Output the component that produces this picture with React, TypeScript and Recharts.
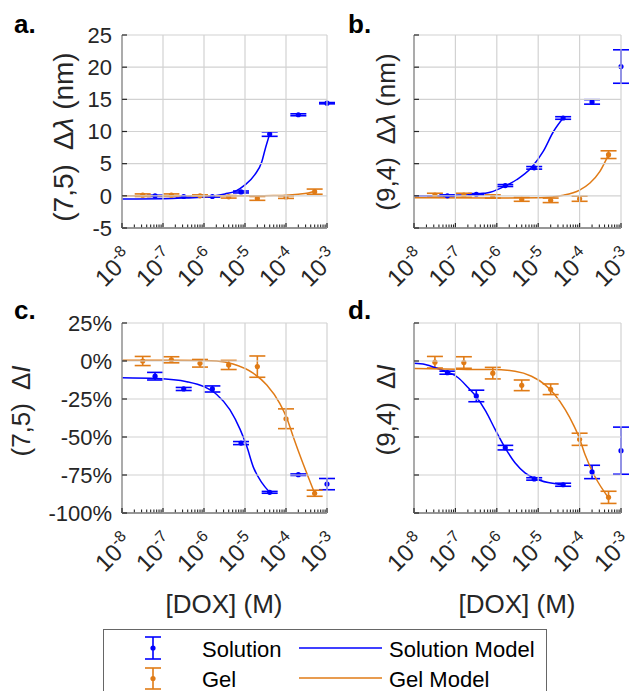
import React from "react";
import { ComposedChart, Line, Scatter, ErrorBar, XAxis, YAxis } from "recharts";

const BLUE = "#0000ff";
const ORANGE = "#e07b16";
const AXIS = "#262626";
const GRID = "#d2d2d2";
const FONT = "'Liberation Sans', Arial, Helvetica, sans-serif";

// [DOX] in M
const solConc = [6.4e-8, 3.2e-7, 1.6e-6, 8e-6, 4e-5, 2e-4, 1e-3];
const gelConc = [3.2e-8, 1.6e-7, 8e-7, 4e-6, 2e-5, 1e-4, 5e-4];

// a. (7,5) wavelength shift (nm)
const solShift75 = [0.0, -0.1, -0.1, 0.6, 9.6, 12.6, 14.4];
const solShift75Err = [0.1, 0.1, 0.1, 0.15, 0.35, 0.15, 0.1];
const gelShift75 = [0.1, 0.1, 0.0, -0.15, -0.4, -0.2, 0.65];
const gelShift75Err = [0.2, 0.2, 0.15, 0.2, 0.3, 0.2, 0.4];

// b. (9,4) wavelength shift (nm)
const solShift94 = [0.0, 0.25, 1.6, 4.35, 12.1, 14.6, 20.1];
const solShift94Err = [0.15, 0.1, 0.15, 0.2, 0.2, 0.35, 2.6];
const gelShift94 = [0.1, 0.1, -0.1, -0.55, -0.7, -0.45, 6.4];
const gelShift94Err = [0.3, 0.3, 0.25, 0.3, 0.35, 0.4, 0.6];

// c. (7,5) intensity change (%)
const solInt75 = [-10, -18.4, -18.4, -54, -86.4, -74.8, -81];
const solInt75Err = [2.5, 1, 2, 1, 0.6, 0.5, 3.7];
const gelInt75 = [0, 0.8, -1.5, -2.6, -3.7, -38, -87];
const gelInt75Err = [3, 2, 2.5, 3, 7, 6.5, 2];

// d. (9,4) intensity change (%)
const solInt94 = [-7.7, -23, -57, -77.6, -81.4, -73, -59];
const solInt94Err = [1, 3.8, 1.5, 0.8, 1, 4.4, 15.5];
const gelInt94 = [-0.8, -1, -8, -16, -18.6, -51.5, -89.7];
const gelInt94Err = [3.8, 3.8, 3.8, 3.5, 3.5, 4, 4];

// model curves
const solFitAx = [1e-8, 1e-7, 3.2e-7, 1e-6, 1.86e-6, 3.24e-6, 5.75e-6, 1e-5, 1.74e-5, 2.57e-5, 3.09e-5, 4e-5];
const solFitAy = [-0.5, -0.45, -0.35, -0.2, 0.0, 0.3, 0.7, 1.7, 3.3, 5.3, 7.2, 9.6];
const gelFitAx = [1e-8, 1e-6, 1e-5, 5e-5, 1e-4, 2e-4, 3.5e-4, 5e-4];
const gelFitAy = [0.0, 0.0, 0.0, 0.05, 0.1, 0.25, 0.45, 0.7];

const solFitBx = [1e-8, 1e-7, 3.2e-7, 6.9e-7, 1.58e-6, 3e-6, 6.9e-6, 1.32e-5, 2.34e-5, 4e-5];
const solFitBy = [0.0, 0.1, 0.25, 0.55, 1.5, 2.5, 4.4, 6.9, 10.0, 12.1];
const gelFitBx = [1e-8, 1e-6, 1.1e-5, 4.1e-5, 1e-4, 1.78e-4, 3.1e-4, 5e-4];
const gelFitBy = [-0.3, -0.35, -0.3, 0.1, 0.9, 2.0, 3.8, 6.4];

const solFitCx = [1e-8, 7e-8, 3.8e-7, 1e-6, 2.04e-6, 4.27e-6, 7.6e-6, 1.1e-5, 1.58e-5, 2.57e-5, 4e-5];
const solFitCy = [-11, -11.5, -13.6, -16.9, -22, -32, -45, -56, -69.5, -80, -86.4];
const gelFitCx = [1e-8, 1e-7, 1e-6, 2.04e-6, 5.1e-6, 1.58e-5, 3.4e-5, 7.1e-5, 1.05e-4, 1.5e-4, 2.4e-4, 4.3e-4, 5e-4];
const gelFitCy = [0.5, 0.5, 0.3, 0, -2, -8, -15.8, -28, -37.7, -49.8, -65, -82.5, -87];

const solFitDx = [1e-8, 1.86e-8, 3.9e-8, 6.8e-8, 1.17e-7, 2.04e-7, 3.1e-7, 5.4e-7, 9.1e-7, 1.58e-6, 2.75e-6, 4.8e-6, 8.3e-6, 1.74e-5, 4e-5];
const solFitDy = [-1.5, -2.3, -5.1, -7.4, -11, -17.6, -23, -33, -45, -57, -67, -73.6, -77.3, -80, -81.4];
const gelFitDx = [1e-8, 1.17e-7, 7.6e-7, 2.75e-6, 6.9e-6, 1.45e-5, 2.5e-5, 4.5e-5, 7.1e-5, 9.8e-5, 1.35e-4, 2.34e-4, 5e-4];
const gelFitDy = [-5, -5.5, -5.6, -6.7, -10, -15.5, -22, -32, -42, -50.5, -61.5, -76, -90];

const X_TICKS = [1e-8, 1e-7, 1e-6, 1e-5, 1e-4, 1e-3];
const MINOR = [2, 3, 4, 5, 6, 7, 8, 9];
const shiftTicks = [-5, 0, 5, 10, 15, 20, 25];
const intTicks = [-100, -75, -50, -25, 0, 25];

const zip = (xs: number[], ys: number[], es?: number[]) =>
  xs.map((x, i) => ({ x, y: ys[i], err: es ? es[i] : 0 }));

// x tick: vertical grid line, inward major/minor log ticks, rotated 10^n label
function LogTick(props: any) {
  const { x, y, payload, decade, plotH } = props;
  const e = Math.round(Math.log10(payload.value));
  return (
    <g>
      <line x1={x} y1={y} x2={x} y2={y - plotH} stroke={GRID} strokeWidth={1.2} />
      <line x1={x} y1={y} x2={x} y2={y - 5} stroke={AXIS} strokeWidth={1.2} />
      {e < -3 &&
        MINOR.map((k) => {
          const mx = x + Math.log10(k) * decade;
          return <line key={k} x1={mx} y1={y} x2={mx} y2={y - 3.5} stroke={AXIS} strokeWidth={1.1} />;
        })}
      <text
        transform={`translate(${x + 12},${y + 31}) rotate(-45)`}
        textAnchor="end"
        fontSize={24}
        fontFamily={FONT}
        fill={AXIS}
      >
        10
        <tspan dy={-10} fontSize={16}>
          {e}
        </tspan>
      </text>
    </g>
  );
}

// y tick: horizontal grid line, inward tick, optional label
function GridYTick(props: any) {
  const { x, y, payload, plotW, showY, fmt } = props;
  const x0 = x + 10;
  return (
    <g>
      <line x1={x0} y1={y} x2={x0 + plotW} y2={y} stroke={GRID} strokeWidth={1.2} />
      <line x1={x0} y1={y} x2={x0 + 5} y2={y} stroke={AXIS} strokeWidth={1.2} />
      {showY && (
        <text x={x} y={y} dy="0.355em" textAnchor="end" fontSize={22} fontFamily={FONT} fill={AXIS}>
          {fmt ? fmt(payload.value) : payload.value}
        </text>
      )}
    </g>
  );
}

const dot = (color: string) => (p: any) => <circle cx={p.cx} cy={p.cy} r={2.6} fill={color} />;

function Panel(props: any) {
  const { left, top, w, h, yDomain, yTicks, yFmt, showY, sol, gel, solFit, gelFit } = props;
  return (
    <div style={{ position: "absolute", left: left - 120, top: top - 20 }}>
      <ComposedChart width={w + 132} height={h + 92} margin={{ top: 20, right: 12, bottom: 12, left: 60 }}>
        <XAxis
          type="number"
          dataKey="x"
          scale="log"
          domain={[1e-8, 1e-3]}
          ticks={X_TICKS}
          interval={0}
          height={60}
          tickLine={false}
          tickSize={0}
          tickMargin={0}
          tick={(p: any) => <LogTick {...p} decade={w / 5} plotH={h} />}
          axisLine={{ stroke: AXIS, strokeWidth: 1.3 }}
        />
        <YAxis
          type="number"
          domain={yDomain}
          ticks={yTicks}
          interval={0}
          width={60}
          tickLine={false}
          tickSize={0}
          tickMargin={10}
          tick={(p: any) => <GridYTick {...p} plotW={w} showY={showY} fmt={yFmt} />}
          axisLine={{ stroke: AXIS, strokeWidth: 1.3 }}
        />
        <Scatter data={sol} dataKey="y" fill={BLUE} shape={dot(BLUE)} isAnimationActive={false}>
          <ErrorBar dataKey="err" direction="y" width={8} stroke={BLUE} strokeWidth={1.6} />
        </Scatter>
        <Scatter data={gel} dataKey="y" fill={ORANGE} shape={dot(ORANGE)} isAnimationActive={false}>
          <ErrorBar dataKey="err" direction="y" width={8} stroke={ORANGE} strokeWidth={1.6} />
        </Scatter>
        <Line data={solFit} dataKey="y" type="monotone" stroke={BLUE} strokeWidth={1.5} dot={false} activeDot={false} isAnimationActive={false} />
        <Line data={gelFit} dataKey="y" type="monotone" stroke={ORANGE} strokeWidth={1.5} dot={false} activeDot={false} isAnimationActive={false} />
      </ComposedChart>
    </div>
  );
}

const pct = (v: number) => `${v}%`;

function YLabel({ x, y, size, name, sym }: any) {
  return (
    <text
      transform={`translate(${x},${y}) rotate(-90)`}
      textAnchor="middle"
      dominantBaseline="central"
      fontSize={size}
      fontFamily={FONT}
      fill={AXIS}
      style={{ whiteSpace: "pre" }}
    >
      {name + "  \u0394"}
      <tspan fontStyle="italic">{sym}</tspan>
      {sym === "\u03bb" ? " (nm)" : ""}
    </text>
  );
}

export default function App() {
  return (
    <div style={{ position: "absolute", left: 0, top: 0, width: 635, height: 691, background: "#fff", overflow: "hidden" }}>
      <Panel left={122} top={35} w={205} h={193} yDomain={[-5, 25]} yTicks={shiftTicks} showY
        sol={zip(solConc, solShift75, solShift75Err)} gel={zip(gelConc, gelShift75, gelShift75Err)}
        solFit={zip(solFitAx, solFitAy)} gelFit={zip(gelFitAx, gelFitAy)} />
      <Panel left={414} top={35} w={207} h={193} yDomain={[-5, 25]} yTicks={shiftTicks} showY={false}
        sol={zip(solConc, solShift94, solShift94Err)} gel={zip(gelConc, gelShift94, gelShift94Err)}
        solFit={zip(solFitBx, solFitBy)} gelFit={zip(gelFitBx, gelFitBy)} />
      <Panel left={122} top={323} w={205} h={190} yDomain={[-100, 25]} yTicks={intTicks} yFmt={pct} showY
        sol={zip(solConc, solInt75, solInt75Err)} gel={zip(gelConc, gelInt75, gelInt75Err)}
        solFit={zip(solFitCx, solFitCy)} gelFit={zip(gelFitCx, gelFitCy)} />
      <Panel left={414} top={323} w={207} h={190} yDomain={[-100, 25]} yTicks={intTicks} showY={false}
        sol={zip(solConc, solInt94, solInt94Err)} gel={zip(gelConc, gelInt94, gelInt94Err)}
        solFit={zip(solFitDx, solFitDy)} gelFit={zip(gelFitDx, gelFitDy)} />

      <svg width={635} height={691} style={{ position: "absolute", left: 0, top: 0, pointerEvents: "none" }}>
        <g fontFamily={FONT} fontWeight="bold" fontSize={26} fill="#000">
          <text x={14} y={33}>a.</text>
          <text x={348} y={33}>b.</text>
          <text x={14} y={319}>c.</text>
          <text x={348} y={319}>d.</text>
        </g>
        <YLabel x={63} y={137} size={28} name="(7,5)" sym={"\u03bb"} />
        <YLabel x={386} y={132} size={26} name="(9,4)" sym={"\u03bb"} />
        <YLabel x={21} y={411} size={26} name="(7,5)" sym="I" />
        <YLabel x={386} y={410} size={26} name="(9,4)" sym="I" />
        <text x={224} y={613} textAnchor="middle" fontSize={26} fontFamily={FONT} fill={AXIS}>[DOX] (M)</text>
        <text x={517} y={613} textAnchor="middle" fontSize={26} fontFamily={FONT} fill={AXIS}>[DOX] (M)</text>

        <rect x={103.5} y={629.5} width={443} height={80} fill="#fff" stroke="#666" strokeWidth={1} />
        <g stroke={BLUE} strokeWidth={1.6}>
          <line x1={153} y1={637} x2={153} y2={659} />
          <line x1={145} y1={637} x2={161} y2={637} />
          <line x1={145} y1={659} x2={161} y2={659} />
          <line x1={299} y1={648} x2={382} y2={648} />
        </g>
        <circle cx={153} cy={648} r={2.6} fill={BLUE} />
        <g stroke={ORANGE} strokeWidth={1.6}>
          <line x1={153} y1={668} x2={153} y2={689} />
          <line x1={145} y1={668} x2={161} y2={668} />
          <line x1={145} y1={689} x2={161} y2={689} />
          <line x1={299} y1={678} x2={382} y2={678} />
        </g>
        <circle cx={153} cy={678.5} r={2.6} fill={ORANGE} />
        <g fontFamily={FONT} fontSize={22} fill="#000">
          <text x={202} y={657}>Solution</text>
          <text x={389} y={657}>Solution Model</text>
          <text x={202} y={687}>Gel</text>
          <text x={389} y={687}>Gel Model</text>
        </g>
      </svg>
    </div>
  );
}
